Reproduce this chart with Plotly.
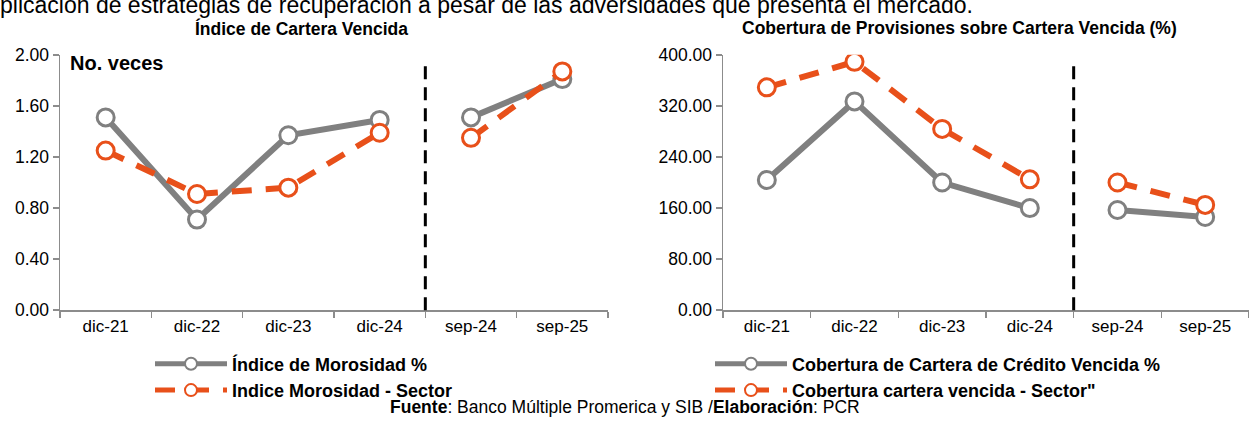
import plotly.graph_objects as go

categories = ["dic-21", "dic-22", "dic-23", "dic-24", "sep-24", "sep-25"]
n_annual = 4  # first 4 points are year-end, last 2 are September

morosidad = [1.51, 0.71, 1.37, 1.49, 1.51, 1.81]
morosidad_sector = [1.25, 0.91, 0.96, 1.39, 1.35, 1.87]
cobertura = [204.0, 327.0, 200.0, 160.0, 157.0, 146.0]
cobertura_sector = [349.0, 389.0, 284.0, 205.0, 200.0, 165.0]

left_yticks = [0, 0.4, 0.8, 1.2, 1.6, 2.0]
right_yticks = [0, 80, 160, 240, 320, 400]

GRAY = "#808080"
ORANGE = "#E8501A"
FONT = "Liberation Sans, Arial, sans-serif"
AXIS = "#8C8C8C"

fig = go.Figure()


def add_series(values, name, color, dash, xa, ya, legend):
    segs = [(0, n_annual), (n_annual, len(categories))]
    for i, (a, b) in enumerate(segs):
        fig.add_trace(go.Scatter(
            x=categories[a:b], y=values[a:b], name=name,
            mode="lines+markers",
            line=dict(color=color, width=6, dash=dash),
            marker=dict(size=17, color="white", line=dict(color=color, width=3)),
            xaxis=xa, yaxis=ya, legend=legend,
            showlegend=(i == 0), legendgroup=name,
        ))


add_series(morosidad, "Índice de Morosidad %", GRAY, "solid", "x", "y", "legend")
add_series(morosidad_sector, "Indice Morosidad - Sector", ORANGE, "20px,14px", "x", "y", "legend")
add_series(cobertura, "Cobertura de Cartera de Crédito Vencida %", GRAY, "solid", "x2", "y2", "legend2")
add_series(cobertura_sector, "Cobertura cartera vencida - Sector\"", ORANGE, "20px,14px", "x2", "y2", "legend2")

W, H = 1249, 427
ytop, ybot = 1 - 47 / H, 1 - 315 / H

xcommon = dict(type="category", categoryorder="array", categoryarray=categories,
               range=[-0.5, len(categories) - 0.5], tickson="boundaries",
               ticks="outside", ticklen=6, tickcolor=AXIS, tickwidth=1.5,
               showline=True, linecolor=AXIS, linewidth=1.5, showgrid=False,
               tickfont=dict(family=FONT, size=17, color="#000"), zeroline=False)
ycommon = dict(showline=True, linecolor=AXIS, linewidth=1.5, showgrid=False,
               ticks="outside", ticklen=6, tickcolor=AXIS, tickwidth=1.5,
               tickformat=".2f", zeroline=False,
               tickfont=dict(family=FONT, size=17.5, color="#000"))

legend_common = dict(xanchor="left", yanchor="top", orientation="v",
                     bgcolor="rgba(0,0,0,0)", itemwidth=72, itemsizing="constant",
                     font=dict(family=FONT, size=18, color="#000", weight="bold"),
                     tracegroupgap=0, traceorder="normal")

fig.update_layout(
    width=W, height=H,
    margin=dict(l=0, r=0, t=0, b=0),
    paper_bgcolor="white", plot_bgcolor="white",
    font=dict(family=FONT, color="#000"),
    xaxis=dict(domain=[60 / W, 608 / W], anchor="y", **xcommon),
    yaxis=dict(domain=[ybot, ytop], anchor="x", range=[0, 2.0],
               tickvals=left_yticks, **ycommon),
    xaxis2=dict(domain=[723 / W, 1.0], anchor="y2", **xcommon),
    yaxis2=dict(domain=[ybot, ytop], anchor="x2", range=[0, 400],
                tickvals=right_yticks, **ycommon),
    legend=dict(x=150 / W, y=1 - 352 / H, **legend_common),
    legend2=dict(x=710 / W, y=1 - 352 / H, **legend_common),
    showlegend=True,
)

# vertical dashed separators between annual and September data
for xa, ya in (("x", "y"), ("x2", "y2")):
    fig.add_shape(type="line", xref=xa, yref=ya + " domain",
                  x0=n_annual - 0.5, x1=n_annual - 0.5, y0=0, y1=0.975,
                  line=dict(color="black", width=3, dash="13px,8px"))

titles = [
    ("<b>Índice de Cartera Vencida</b>", 301, 19),
    ("<b>Cobertura de Provisiones sobre Cartera Vencida (%)</b>", 959, 19),
    ("<b>Fuente</b>: Banco Múltiple Promerica y SIB /<b>Elaboración</b>: PCR", 625, 417),
]
for t, px, py in titles:
    fig.add_annotation(text=t, xref="paper", yref="paper", x=px / W, y=1 - py / H,
                       xanchor="center", yanchor="middle", showarrow=False,
                       font=dict(family=FONT, size=17.5, color="#000"))

fig.add_annotation(text="<b>No. veces</b>", xref="paper", yref="paper",
                   x=68 / W, y=1 - 56 / H, xanchor="left", yanchor="middle",
                   showarrow=False, font=dict(family=FONT, size=20, color="#000"))

# paragraph line from the surrounding report, cut off at the top edge
fig.add_annotation(text="plicación de estrategias de recuperación a pesar de las adversidades que presenta el mercado.",
                   xref="paper", yref="paper", x=-2 / W, y=1 + 5 / H,
                   xanchor="left", yanchor="middle", showarrow=False,
                   font=dict(family=FONT, size=23, color="#000"))

fig.write_html("out.html", config={"staticPlot": True},
               post_script="document.body.style.margin='0';document.body.style.overflow='hidden';")
